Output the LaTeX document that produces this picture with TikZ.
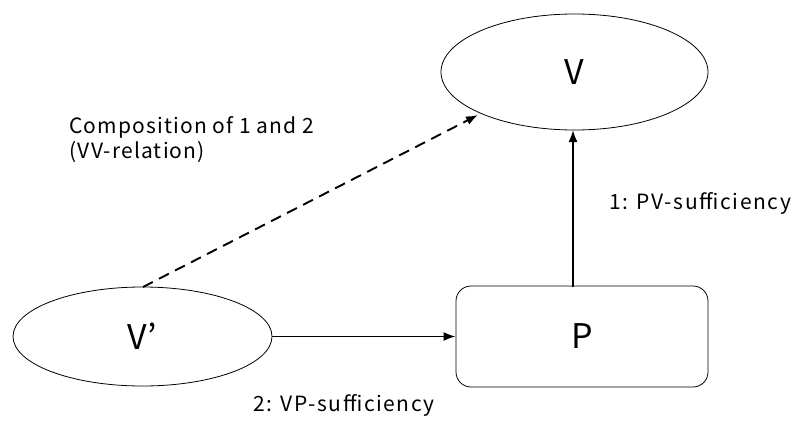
\documentclass[tikz,border=0pt]{standalone}
\usepackage{fontspec}
\setmainfont{Noto Sans CJK JP}
\usetikzlibrary{shapes.geometric,arrows.meta}

\tikzset{
  oval/.style={draw=black, line width=0.8pt, ellipse, inner sep=0pt},
  rbox/.style={draw=black, line width=0.8pt, rectangle, rounded corners=15pt, inner sep=0pt},
  bigtext/.style={font=\fontsize{34}{40}\selectfont},
  smalltext/.style={font=\fontsize{21}{25}\selectfont\addfontfeature{LetterSpace=5.5}},
  widetext/.style={font=\fontsize{21}{25}\selectfont\addfontfeature{LetterSpace=7.6}},
}

\begin{document}
\begin{tikzpicture}[x=1pt, y=-1pt, line width=1.9pt]
\useasboundingbox (0,0) rectangle (795,423);
\node[oval, bigtext, minimum width=267pt, minimum height=116pt] (V) at (574.5,72) {V};
\node[oval, bigtext, minimum width=259pt, minimum height=99pt] (Vp) at (142.5,336.5) {V’};
\node[rbox, bigtext, minimum width=252pt, minimum height=101pt] (P) at (582,336.5) {P};
\coordinate (Vtop) at (143,287) ;
\coordinate (Vhit) at (478,115) ;
\coordinate (Ptop) at (573,286.5) ;
\coordinate (Vbot) at (573,130) ;
\draw[black] [->] [>={Latex[length=12pt,width=9pt]}] (Vp) -- (P);
\draw[black] [->] [>={Latex[length=12pt,width=9pt]}] (Ptop) -- (Vbot);
\draw[black] [->] [>={Latex[length=12pt,width=9pt]}] [dash pattern=on 11pt off 7pt] (Vtop) -- (Vhit);
\node[smalltext, anchor=west, align=left] (comp) at (65,140) {Composition of 1 and 2\\(V\kern1.5pt V-relation)};
\node[widetext, anchor=west] (pv) at (605,203) {1: PV-sufficiency};
\node[widetext, anchor=west] (vp) at (249,405) {2: VP-sufficiency};
\end{tikzpicture}
\end{document}
